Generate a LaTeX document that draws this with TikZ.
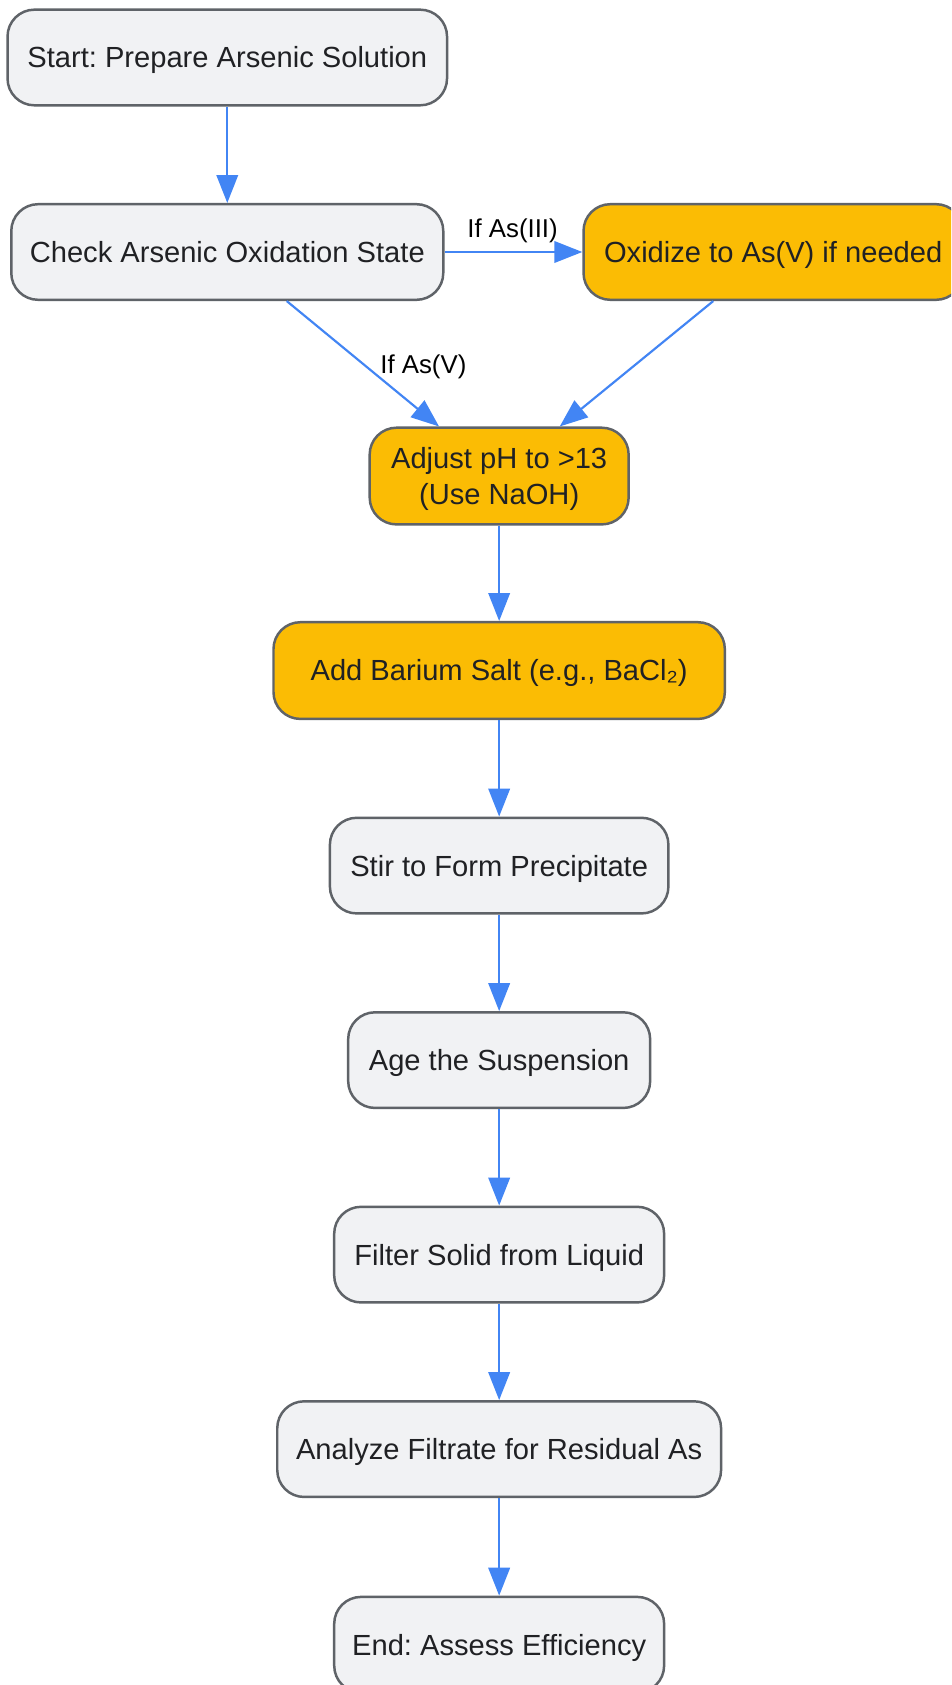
\documentclass[tikz,border=0pt]{standalone}
\usepackage{fontspec}
\setmainfont{Liberation Sans}
\frenchspacing
\usetikzlibrary{arrows.meta}
\definecolor{boxgray}{HTML}{F1F2F4}
\definecolor{boxborder}{HTML}{5F6368}
\definecolor{boxorange}{HTML}{FBBC04}
\definecolor{edgeblue}{HTML}{4285F4}
\definecolor{txt}{HTML}{202124}
\tikzset{
  base/.style={rectangle, rounded corners=25pt, draw=boxborder, line width=2.3pt,
    inner sep=0pt, minimum height=89pt, text=txt,
    font=\fontsize{27.1}{34}\selectfont, text height=19.4pt, text depth=0pt, align=center},
  graybox/.style={base, fill=boxgray},
  orangebox/.style={base, fill=boxorange},
  flow/.style={draw=edgeblue, line width=2pt, -{Triangle[length=26pt,width=20pt]}},
  elabel/.style={font=\fontsize{24}{29}\selectfont, text=black, inner sep=0pt,
    text height=17.2pt, text depth=0pt}
}
\begin{document}
\begin{tikzpicture}[x=1pt,y=1pt]
\clip (0,0) rectangle (885,-1568);
\fill[white] (0,0) rectangle (885,-1568);
\node[graybox, minimum width=409pt] (start) at (211.5,-53.5) {Start: Prepare Arsenic Solution};
\node[graybox, minimum width=402pt] (check) at (211.5,-234.5) {Check Arsenic Oxidation State};
\node[orangebox, minimum width=353pt] (ox) at (719.5,-234.5) {Oxidize to As(V) if needed};
\node[orangebox, minimum width=241pt, minimum height=90pt, text height=53.4pt] (adjust) at (464.5,-443) {Adjust pH to >13\\(Use NaOH)};
\node[orangebox, minimum width=420pt, minimum height=90pt] (barium) at (464.5,-624) {Add Barium Salt (e.g., BaCl₂)};
\node[graybox, minimum width=315pt] (stir) at (464.5,-805.5) {Stir to Form Precipitate};
\node[graybox, minimum width=281pt] (age) at (464.5,-986.5) {Age the Suspension};
\node[graybox, minimum width=307pt] (filter) at (464.5,-1167.5) {Filter Solid from Liquid};
\node[graybox, minimum width=413pt] (analyze) at (464.5,-1348.5) {Analyze Filtrate for Residual As};
\node[graybox, minimum width=307pt] (end) at (464.5,-1530.5) {End: Assess Efficiency};

\draw[flow] (start) -- (check);
\draw[flow] (check) -- (ox);
\draw[flow] (check) -- (adjust);
\draw[flow] (ox) -- (adjust);
\draw[flow] (adjust) -- (barium);
\draw[flow] (barium) -- (stir);
\draw[flow] (stir) -- (age);
\draw[flow] (age) -- (filter);
\draw[flow] (filter) -- (analyze);
\draw[flow] (analyze) -- (end);

\node[elabel] (l1) at (477,-212.6) {If As(III)};
\node[elabel] (l2) at (394,-338.7) {If As(V)};
\end{tikzpicture}
\end{document}
